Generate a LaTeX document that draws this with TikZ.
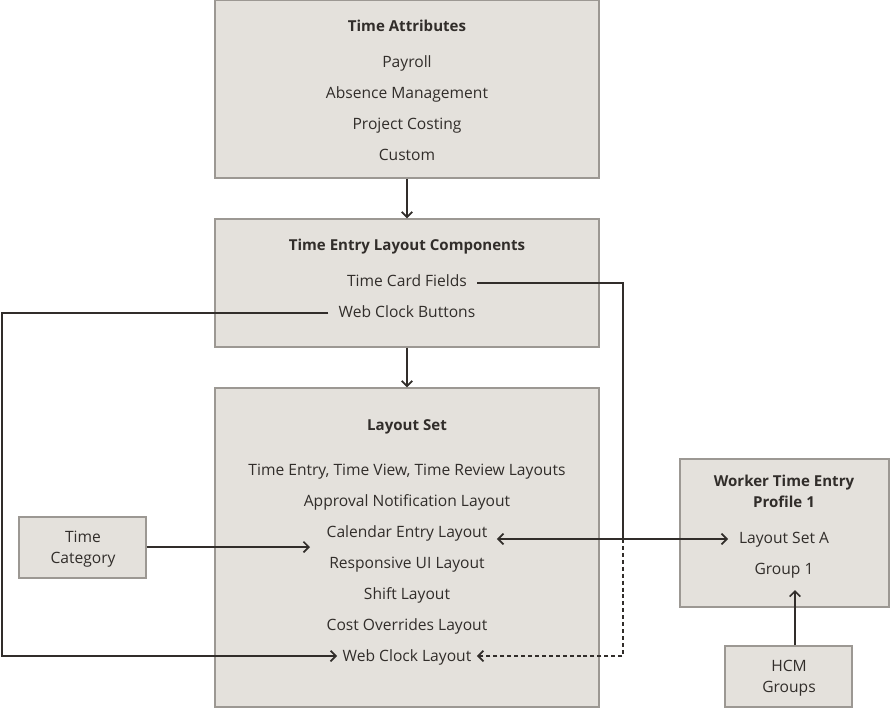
\documentclass[tikz,border=0pt]{standalone}
\usepackage{fontspec}
\setmainfont{Open Sans}
\usetikzlibrary{arrows.meta,fit}
\definecolor{boxfill}{HTML}{E4E1DC}
\definecolor{boxline}{HTML}{9C9893}
\definecolor{ink}{HTML}{312D2A}
\begin{document}
\begin{tikzpicture}[x=0.75pt,y=-0.75pt,
  box/.style={draw=boxline, fill=boxfill, line width=0.9pt, inner sep=0pt},
  lbl/.style={text=ink, font=\fontsize{11.7}{15.8}\selectfont, inner sep=0pt},
  item/.style={lbl, text height=8.4pt, text depth=2.8pt},
  ttl/.style={text=ink, font=\fontsize{11.3}{15.8}\selectfont\bfseries, inner sep=0pt},
  head/.style={ttl, text height=8.2pt, text depth=2.7pt},
  conn/.style={draw=ink, line width=1.5pt},
  tip/.tip={Straight Barb[length=4pt,width=8pt,line width=1.3pt]},
  arr/.style={conn, -tip},
  dots/.style={draw=ink, line width=1.3pt, dash pattern=on 3pt off 2.2pt, -tip},
]
\useasboundingbox (0,0) rectangle (890,708);
% boxes
\node[box, fit={(215,0) (599,178)}] (ta) {};
\node[box, fit={(215,219) (599,347)}] (telc) {};
\node[box, fit={(215,388) (599,707)}] (ls) {};
\node[box, fit={(680,459) (889,607)}] (wtep) {};
\node[box, fit={(19,517) (146,578)}] (tc) {};
\node[box, fit={(725,646) (852,707)}] (hcm) {};
% Time Attributes
\node[head] (tat) at (407,28) {Time Attributes};
\node[item] (pay) at (407,64) {Payroll};
\node[item] (abs) at (407,95) {Absence Management};
\node[item] (pc) at (407,126) {Project Costing};
\node[item] (cus) at (407,157) {Custom};
% Time Entry Layout Components
\node[head] (telct) at (407,246.5) {Time Entry Layout Components};
\node[item] (tcf) at (407,283) {Time Card Fields};
\node[item] (wcb) at (407,314) {Web Clock Buttons};
% Layout Set
\node[head] (lst) at (407,426.5) {Layout Set};
\node[item] (tetv) at (407,472) {Time Entry, Time View, Time Review Layouts};
\node[item] (anl) at (407,503) {Approval Notification Layout};
\node[item] (cel) at (407,534) {Calendar Entry Layout};
\node[item] (rui) at (407,565) {Responsive UI Layout};
\node[item] (sl) at (407,596) {Shift Layout};
\node[item] (col) at (407,627) {Cost Overrides Layout};
\node[item] (wcl) at (407,658) {Web Clock Layout};
% Worker Time Entry Profile
\node[ttl, align=center] (wtept) at (784,491.5) {Worker Time Entry\\Profile 1};
\node[item] (lsa) at (784,540) {Layout Set A};
\node[item] (g1) at (784,571) {Group 1};
% Time Category / HCM Groups
\node[lbl, align=center] (tct) at (83,549) {Time\\Category};
\node[lbl, align=center] (hcmt) at (789,678) {HCM\\Groups};
% helper coordinates
\coordinate (jt) at (623,283);
\coordinate (j) at (623,539);
\coordinate (l1) at (2,313);
\coordinate (l2) at (2,656);
\coordinate (tce) at (310,547);
\coordinate (g1b) at (795,590);
% connectors
\draw[arr] (ta.south) -- (telc.north);
\draw[arr] (telc.south) -- (ls.north);
\draw[conn] ([xshift=7.5pt]tcf.east |- jt) -- (jt) -- (j);
\draw[conn, tip-tip] ([xshift=7pt]cel.east |- j) -- ([xshift=-8pt]lsa.west |- j);
\draw[dots] (j) |- ([xshift=4pt]wcl.east |- l2);
\draw[arr] ([xshift=-7.5pt]wcb.west |- l1) -- (l1) -- (l2) -- ([xshift=-4pt]wcl.west |- l2);
\draw[arr] (tc.east |- tce) -- (tce);
\draw[arr] (hcm.north -| g1b) -- (g1b);
\end{tikzpicture}
\end{document}
